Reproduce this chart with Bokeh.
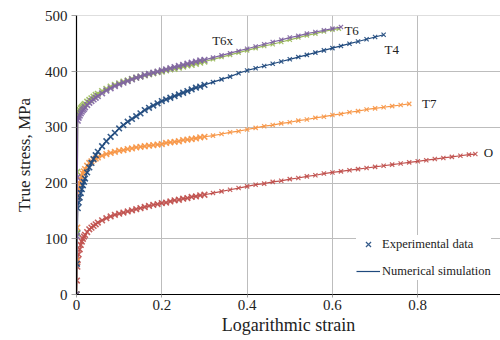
from bokeh.plotting import figure
from bokeh.models import Range1d, Legend, LegendItem, FixedTicker, ColumnDataSource
from bokeh.embed import file_html
from bokeh.resources import INLINE
from bokeh.core.properties import value

# ---------------- data ----------------
grid_a = [0, 0.001, 0.002, 0.003, 0.005, 0.0075, 0.01, 0.0125, 0.015, 0.0175, 0.02,
          0.025, 0.03, 0.035, 0.04, 0.045, 0.05, 0.06, 0.07, 0.08, 0.09, 0.10,
          0.11, 0.12, 0.13, 0.14, 0.15, 0.16, 0.17, 0.18, 0.19, 0.20,
          0.21, 0.22, 0.23, 0.24, 0.25, 0.26, 0.27, 0.28, 0.29, 0.30]

o_strain = grid_a + [0.32, 0.34, 0.36, 0.38, 0.40, 0.42, 0.44, 0.46, 0.48, 0.50, 0.52, 0.54,
                     0.56, 0.58, 0.60, 0.62, 0.64, 0.66, 0.68, 0.70, 0.72, 0.74, 0.76, 0.78,
                     0.80, 0.82, 0.84, 0.86, 0.88, 0.90, 0.92, 0.935]
o_stress = [0, 25, 50, 62, 72, 81, 89, 95, 100, 104, 107,
            112, 117, 120, 123, 126, 129, 133, 137, 140, 143, 145,
            147, 149, 151, 153, 155, 157, 159, 161, 162, 164,
            165, 167, 169, 170, 172, 173, 175, 176, 178, 179,
            182, 185, 188, 191, 194, 197, 199, 202, 204, 207, 209, 212,
            214, 217, 219, 221, 223, 225, 227, 229, 231, 233, 235, 237,
            239, 241, 243, 245, 247, 249, 251, 252]

t7_strain = grid_a + [0.32, 0.34, 0.36, 0.38, 0.40, 0.42, 0.44, 0.46, 0.48, 0.50, 0.52, 0.54,
                      0.56, 0.58, 0.60, 0.62, 0.64, 0.66, 0.68, 0.70, 0.72, 0.74, 0.76, 0.78]
t7_stress = [0, 60, 120, 175, 190, 199, 206, 212, 217, 221, 225,
             231, 236, 239, 242, 244, 246, 249, 252, 254, 256, 258,
             259, 261, 262, 264, 265, 266, 267, 268, 269, 270,
             272, 273, 274, 275, 277, 278, 279, 280, 282, 283,
             285, 288, 291, 293, 296, 299, 302, 304, 307, 309, 312, 314,
             317, 319, 322, 324, 327, 329, 332, 334, 336, 338, 340, 342]

t4_strain = grid_a + [0.32, 0.34, 0.36, 0.38, 0.40, 0.42, 0.44, 0.46, 0.48, 0.50, 0.52, 0.54,
                      0.56, 0.58, 0.60, 0.62, 0.64, 0.66, 0.68, 0.70, 0.72]
t4_stress = [0, 55, 110, 155, 165, 174, 182, 189, 196, 202, 208,
             219, 228, 236, 243, 250, 256, 266, 275, 283, 290, 298,
             304, 310, 315, 320, 325, 331, 335, 339, 343, 347,
             350, 353, 356, 359, 362, 365, 368, 371, 373, 376,
             381, 386, 391, 397, 402, 406, 410, 414, 418, 422, 426, 430,
             434, 438, 442, 446, 450, 454, 458, 462, 466]

t6_strain = grid_a + [0.32, 0.34, 0.36, 0.38, 0.40, 0.42, 0.44, 0.46, 0.48, 0.50, 0.52, 0.54,
                      0.56, 0.58, 0.60, 0.615]
t6_stress = [0, 110, 220, 322, 328, 331, 334, 336, 338, 340, 342,
             346, 349, 352, 355, 358, 360, 365, 369, 373, 376, 379,
             382, 384, 387, 389, 391, 393, 395, 397, 399, 400,
             402, 404, 405, 407, 409, 411, 412, 414, 416, 418,
             422, 426, 430, 434, 438, 442, 446, 449, 453, 457, 461, 465,
             468, 472, 475, 477]

t6x_strain = grid_a + [0.32, 0.34, 0.36, 0.38, 0.40, 0.42, 0.44, 0.46, 0.48, 0.50, 0.52, 0.54,
                       0.56, 0.58, 0.60, 0.62]
t6x_stress = [0, 105, 210, 312, 317, 321, 325, 328, 331, 333, 336,
              340, 344, 347, 350, 353, 356, 361, 366, 370, 374, 377,
              380, 383, 386, 389, 391, 394, 396, 398, 400, 402,
              404, 406, 408, 410, 412, 414, 416, 418, 420, 421,
              425, 429, 433, 437, 441, 445, 449, 453, 457, 461, 464, 468,
              471, 474, 477, 480]

curve_names = ["O", "T7", "T4", "T6", "T6x"]
curve_colors = ["#C0504D", "#F79646", "#1F497D", "#9BBB59", "#8064A2"]

label_text = ["T6x", "T6", "T4", "T7", "O"]
label_x = [0.318, 0.628, 0.722, 0.81, 0.955]
label_y = [456, 473, 439, 343, 255]

x_ticks = [0, 0.2, 0.4, 0.6, 0.8]
x_tick_labels = ["0", "0.2", "0.4", "0.6", "0.8"]
y_ticks = [0, 100, 200, 300, 400, 500]

SERIF = "Liberation Serif"
DENSE_LIMIT = 0.3   # experimental readings are recorded densely up to here

# ---------------- figure ----------------
p = figure(width=500, height=340, output_backend="svg", toolbar_location=None,
           x_range=Range1d(0, 0.994), y_range=Range1d(0, 500.6),
           min_border_left=76, min_border_right=0, min_border_top=15,
           min_border_bottom=46)
p.outline_line_color = None
p.background_fill_color = "white"

p.xaxis.ticker = FixedTicker(ticks=x_ticks)
p.xaxis.major_label_overrides = {v: s for v, s in zip(x_ticks, x_tick_labels)}
p.yaxis.ticker = FixedTicker(ticks=y_ticks)
p.xgrid.ticker = FixedTicker(ticks=x_ticks[1:])
p.ygrid.ticker = FixedTicker(ticks=y_ticks[1:])
for g in (p.xgrid, p.ygrid):
    g.grid_line_color = "#BDBDBD"
    g.grid_line_width = 1

for ax in (p.xaxis, p.yaxis):
    ax.axis_line_color = "black"
    ax.axis_line_width = 1.2
    ax.minor_tick_line_color = None
    ax.major_label_text_font = SERIF
    ax.major_label_text_font_size = "15px"
    ax.major_label_text_color = "#222222"
    ax.axis_label_text_font = SERIF
    ax.axis_label_text_font_style = "normal"
    ax.axis_label_text_color = "#222222"
    ax.major_tick_line_color = "#A0A0A0"
    ax.major_tick_in = 0

p.xaxis.major_tick_out = 3
p.xaxis.major_label_standoff = 2
p.xaxis.axis_label = "Logarithmic strain"
p.xaxis.axis_label_text_font_size = "18px"
p.xaxis.axis_label_standoff = 2

p.yaxis.major_tick_out = 5
p.yaxis.major_label_standoff = 4
p.yaxis.axis_label = "True stress, MPa"
p.yaxis.axis_label_text_font_size = "17px"
p.yaxis.axis_label_standoff = 8

series = [(o_strain, o_stress), (t7_strain, t7_stress), (t4_strain, t4_stress),
          (t6_strain, t6_stress), (t6x_strain, t6x_stress)]
exp_renderers = []
line_renderers = []
for (xs, ys), name, col in zip(series, curve_names, curve_colors):
    dense = ColumnDataSource(dict(x=[a for a in xs if a <= DENSE_LIMIT],
                                  y=[b for a, b in zip(xs, ys) if a <= DENSE_LIMIT]))
    sparse = ColumnDataSource(dict(x=[a for a in xs if a > DENSE_LIMIT],
                                   y=[b for a, b in zip(xs, ys) if a > DENSE_LIMIT]))
    full = ColumnDataSource(dict(x=xs, y=ys))
    p.scatter("x", "y", source=dense, marker="x", size=8, line_width=1.6,
              line_color=col, line_alpha=0.9)
    r_e = p.scatter("x", "y", source=sparse, marker="x", size=6, line_width=1.2,
                    line_color=col, line_alpha=0.9)
    r_l = p.line("x", "y", source=full, line_color=col, line_width=1.2)
    exp_renderers.append(r_e)
    line_renderers.append(r_l)

lab_src = ColumnDataSource(dict(x=label_x, y=label_y, t=label_text))
p.text("x", "y", text="t", source=lab_src, text_font=value(SERIF),
       text_font_size=value("13px"), text_color="#222222",
       text_baseline="middle", text_align="left")

# legend (uses T4 renderers for glyph style)
leg = Legend(items=[LegendItem(label="Experimental data", renderers=[exp_renderers[2]]),
                    LegendItem(label="Numerical simulation", renderers=[line_renderers[2]])],
             location=(280, 14))
leg.background_fill_color = "white"
leg.background_fill_alpha = 1.0
leg.border_line_color = None
leg.label_text_font = SERIF
leg.label_text_font_size = "12.5px"
leg.label_text_color = "#222222"
leg.glyph_width = 24
leg.glyph_height = 18
leg.label_height = 18
leg.label_standoff = 2
leg.spacing = 9
leg.padding = 6
leg.margin = 0
p.add_layout(leg)

open("out.html", "w").write(file_html(p, INLINE))
